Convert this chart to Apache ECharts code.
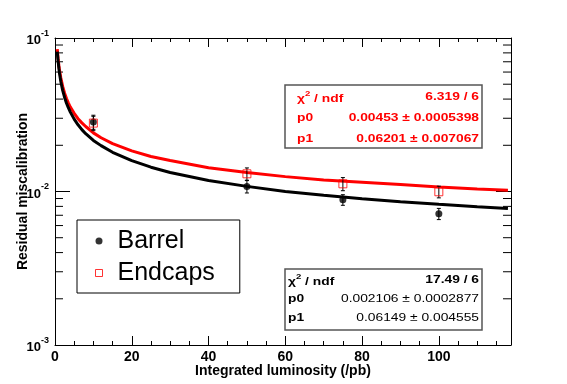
<!DOCTYPE html>
<html>
<head>
<meta charset="utf-8">
<script src="https://cdn.jsdelivr.net/npm/echarts@6/dist/echarts.min.js"></script>
<style>
html,body{margin:0;padding:0;background:#fff;}
#chart{width:567px;height:384px;}
</style>
</head>
<body>
<div id="chart"></div>
<script>
// ---- data ----
var lumi = [10, 50, 75, 100];
var barrelVal = [0.0284, 0.01078, 0.00883, 0.00716];
var barrelErr = [0.0030, 0.0010, 0.0007, 0.0006];
var endcapVal = [0.0279, 0.01304, 0.01122, 0.00996];
var endcapErr = [0.0030, 0.0012, 0.0011, 0.00087];

// fitted curves (sampled)
var fitL = [0.6, 0.7, 0.8, 1, 1.2, 1.5, 2, 2.5, 3, 3.5, 4, 5, 6, 7, 8, 10, 12, 15, 20, 25, 30, 40, 50, 60, 70, 80, 90, 100, 110, 118];
var barrelFit = [0.0815, 0.0756, 0.0709, 0.0636, 0.0582, 0.0523, 0.0456, 0.0410, 0.0376, 0.0350, 0.0329, 0.0296, 0.0272, 0.0253, 0.0238, 0.0215, 0.0199, 0.0180, 0.0159, 0.0144, 0.0133, 0.0118, 0.0108, 0.0100, 0.00945, 0.00898, 0.00858, 0.00825, 0.00796, 0.00776];
var endcapFit = [0.0846, 0.0786, 0.0739, 0.0665, 0.0611, 0.0552, 0.0484, 0.0437, 0.0403, 0.0377, 0.0355, 0.0323, 0.0298, 0.0280, 0.0265, 0.0241, 0.0224, 0.0205, 0.0184, 0.0169, 0.0159, 0.0143, 0.0133, 0.0125, 0.0119, 0.0115, 0.0111, 0.0107, 0.0104, 0.0102];

// log-axis minor tick values
var minorY = [0.002, 0.003, 0.004, 0.005, 0.006, 0.007, 0.008, 0.009, 0.02, 0.03, 0.04, 0.05, 0.06, 0.07, 0.08, 0.09];

// stats box texts
var endcapStatValues = ['6.319 / 6', '0.00453 \u00b1 0.0005398', '0.06201 \u00b1 0.007067'];
var barrelStatValues = ['17.49 / 6', '0.002106 \u00b1 0.0002877', '0.06149 \u00b1 0.004555'];

var xMin = 0, xMax = 118.8, xInterval = 20;
var yMin = 0.001, yMax = 0.1;

function pairs(xs, ys) { return xs.map(function (x, i) { return [x, ys[i]]; }); }
function triples(xs, ys, es) { return xs.map(function (x, i) { return [x, ys[i], es[i]]; }); }

var FONT = 'Liberation Sans';

function errRender(params, api) {
  var x = api.value(0), y = api.value(1), e = api.value(2);
  var p = api.coord([x, y + e]);
  var q = api.coord([x, y - e]);
  var st = { stroke: '#000', lineWidth: 1 };
  return {
    type: 'group',
    children: [
      { type: 'line', shape: { x1: p[0], y1: p[1], x2: q[0], y2: q[1] }, style: st },
      { type: 'line', shape: { x1: p[0] - 2, y1: p[1], x2: p[0] + 2, y2: p[1] }, style: st },
      { type: 'line', shape: { x1: q[0] - 2, y1: q[1], x2: q[0] + 2, y2: q[1] }, style: st }
    ]
  };
}

function minorTickRender(params, api) {
  var cs = params.coordSys;
  var y = api.coord([xMin, api.value(1)])[1];
  var st = { stroke: '#000', lineWidth: 1 };
  return {
    type: 'group',
    children: [
      { type: 'line', shape: { x1: cs.x, y1: y, x2: cs.x + 8, y2: y }, style: st },
      { type: 'line', shape: { x1: cs.x + cs.width - 8, y1: y, x2: cs.x + cs.width, y2: y }, style: st }
    ]
  };
}

function statText(x, y, txt, color, align, bold) {
  return {
    type: 'text', x: x, y: y, scaleX: 1.2, scaleY: 1, z: 101,
    style: {
      text: txt, fill: color, align: align, verticalAlign: 'middle',
      font: (bold ? 'bold ' : '') + '11.5px "Liberation Sans"'
    }
  };
}
function chiText(x, y, color) {
  return {
    type: 'text', x: x, y: y, scaleX: 1.2, z: 101,
    style: {
      text: '{a|\u03c7}{s|2}{a| / ndf}', verticalAlign: 'middle', align: 'left',
      rich: {
        a: { fill: color, font: 'bold 11.5px "Liberation Sans"', verticalAlign: 'bottom', lineHeight: 15 },
        s: { fill: color, font: 'bold 8px "Liberation Sans"', verticalAlign: 'top', lineHeight: 15 }
      }
    }
  };
}

var chart = echarts.init(document.getElementById('chart'), null, { renderer: 'canvas' });

var graphics = [
  { type: 'rect', shape: { x: 285, y: 85, width: 197, height: 63 }, style: { fill: '#fff', stroke: '#555', lineWidth: 1.5 }, z: 100 },
  chiText(297, 97, '#ff0000'),
  statText(297, 118, 'p0', '#ff0000', 'left', true),
  statText(297, 139, 'p1', '#ff0000', 'left', true),
  statText(479, 97, endcapStatValues[0], '#ff0000', 'right', true),
  statText(479, 118, endcapStatValues[1], '#ff0000', 'right', true),
  statText(479, 139, endcapStatValues[2], '#ff0000', 'right', true),

  { type: 'rect', shape: { x: 285, y: 269, width: 197, height: 61 }, style: { fill: '#fff', stroke: '#555', lineWidth: 1.5 }, z: 100 },
  chiText(288, 280, '#000'),
  statText(288, 299, 'p0', '#000', 'left', true),
  statText(288, 318, 'p1', '#000', 'left', true),
  statText(479, 280, barrelStatValues[0], '#000', 'right', true),
  statText(479, 299, barrelStatValues[1], '#000', 'right', false),
  statText(479, 318, barrelStatValues[2], '#000', 'right', false)
];

var option = {
  animation: false,
  backgroundColor: '#fff',
  grid: { left: 55, right: 56, top: 38, bottom: 39, containLabel: false, outerBoundsMode: 'none' },
  legend: {
    orient: 'vertical', left: 77, top: 220,
    padding: [8, 25, 7, 18], itemGap: 6,
    itemWidth: 7, itemHeight: 7,
    backgroundColor: '#fff', borderColor: '#000', borderWidth: 1,
    textStyle: { fontFamily: FONT, fontSize: 25, color: '#000', lineHeight: 26, padding: [0, 0, 0, 10] },
    data: [
      { name: 'Barrel', icon: 'circle', itemStyle: { color: '#000' } },
      { name: 'Endcaps', icon: 'rect', itemStyle: { color: 'rgba(255,255,255,0)', borderColor: '#ff0000', borderWidth: 1 } }
    ]
  },
  xAxis: [{
    type: 'value', min: xMin, max: xMax, interval: xInterval, position: 'bottom',
    name: 'Integrated luminosity (/pb)', nameLocation: 'middle', nameGap: 19, nameMoveOverlap: false,
    nameTextStyle: { fontFamily: FONT, fontSize: 14, fontWeight: 'bold', color: '#000' },
    axisLine: { show: true, onZero: false, lineStyle: { color: '#000', width: 1 } },
    axisTick: { show: true, inside: true, length: 9, lineStyle: { color: '#000' } },
    minorTick: { show: true, splitNumber: 4, length: 4, lineStyle: { color: '#000' } },
    axisLabel: { fontFamily: FONT, fontSize: 14, fontWeight: 'bold', color: '#000', margin: 5, showMaxLabel: false },
    splitLine: { show: false }
  }, {
    type: 'value', min: xMin, max: xMax, interval: xInterval, position: 'top',
    axisLine: { show: true, onZero: false, lineStyle: { color: '#000', width: 1 } },
    axisTick: { show: true, inside: true, length: 9, lineStyle: { color: '#000' } },
    minorTick: { show: true, splitNumber: 4, length: 4, lineStyle: { color: '#000' } },
    axisLabel: { show: false },
    splitLine: { show: false }
  }],
  yAxis: [{
    type: 'log', logBase: 10, min: yMin, max: yMax, position: 'left',
    name: 'Residual miscalibration', nameLocation: 'middle', nameGap: 25, nameRotate: 90, nameMoveOverlap: false,
    nameTextStyle: { fontFamily: FONT, fontSize: 14, fontWeight: 'bold', color: '#000' },
    axisLine: { show: true, onZero: false, lineStyle: { color: '#000', width: 1 } },
    axisTick: { show: true, inside: true, length: 15, lineStyle: { color: '#000' } },
    axisLabel: {
      margin: 6,
      formatter: function (v) { return '{b|10}{s|' + Math.round(Math.log10(v)) + '}'; },
      rich: {
        b: { fontFamily: FONT, fontSize: 13, fontWeight: 'bold', color: '#000', verticalAlign: 'bottom', lineHeight: 18 },
        s: { fontFamily: FONT, fontSize: 9, fontWeight: 'bold', color: '#000', verticalAlign: 'top', lineHeight: 18 }
      }
    },
    splitLine: { show: false }
  }, {
    type: 'log', logBase: 10, min: yMin, max: yMax, position: 'right',
    axisLine: { show: true, onZero: false, lineStyle: { color: '#000', width: 1 } },
    axisTick: { show: true, inside: true, length: 15, lineStyle: { color: '#000' } },
    axisLabel: { show: false },
    splitLine: { show: false }
  }],
  series: [
    {
      name: 'minorTicks', type: 'custom', xAxisIndex: 0, yAxisIndex: 0, silent: true, clip: false,
      renderItem: minorTickRender,
      data: minorY.map(function (v) { return [xMin, v]; })
    },
    {
      name: 'Endcaps fit', type: 'line', xAxisIndex: 0, yAxisIndex: 0, showSymbol: false, smooth: false,
      lineStyle: { color: '#ff0000', width: 3 }, data: pairs(fitL, endcapFit), z: 3
    },
    {
      name: 'Barrel fit', type: 'line', xAxisIndex: 0, yAxisIndex: 0, showSymbol: false, smooth: false,
      lineStyle: { color: '#000', width: 3 }, data: pairs(fitL, barrelFit), z: 3
    },
    {
      name: 'Endcaps err', type: 'custom', renderItem: errRender, data: triples(lumi, endcapVal, endcapErr), z: 4
    },
    {
      name: 'Barrel err', type: 'custom', renderItem: errRender, data: triples(lumi, barrelVal, barrelErr), z: 4
    },
    {
      name: 'Barrel', type: 'scatter', symbol: 'circle', symbolSize: 7,
      itemStyle: { color: '#000' }, data: pairs(lumi, barrelVal), z: 5
    },
    {
      name: 'Endcaps', type: 'scatter', symbol: 'rect', symbolSize: 8,
      itemStyle: { color: 'rgba(255,255,255,0)', borderColor: '#ff0000', borderWidth: 1 },
      data: pairs(lumi, endcapVal), z: 6
    }
  ],
  graphic: graphics
};

chart.setOption(option);
</script>
</body>
</html>
